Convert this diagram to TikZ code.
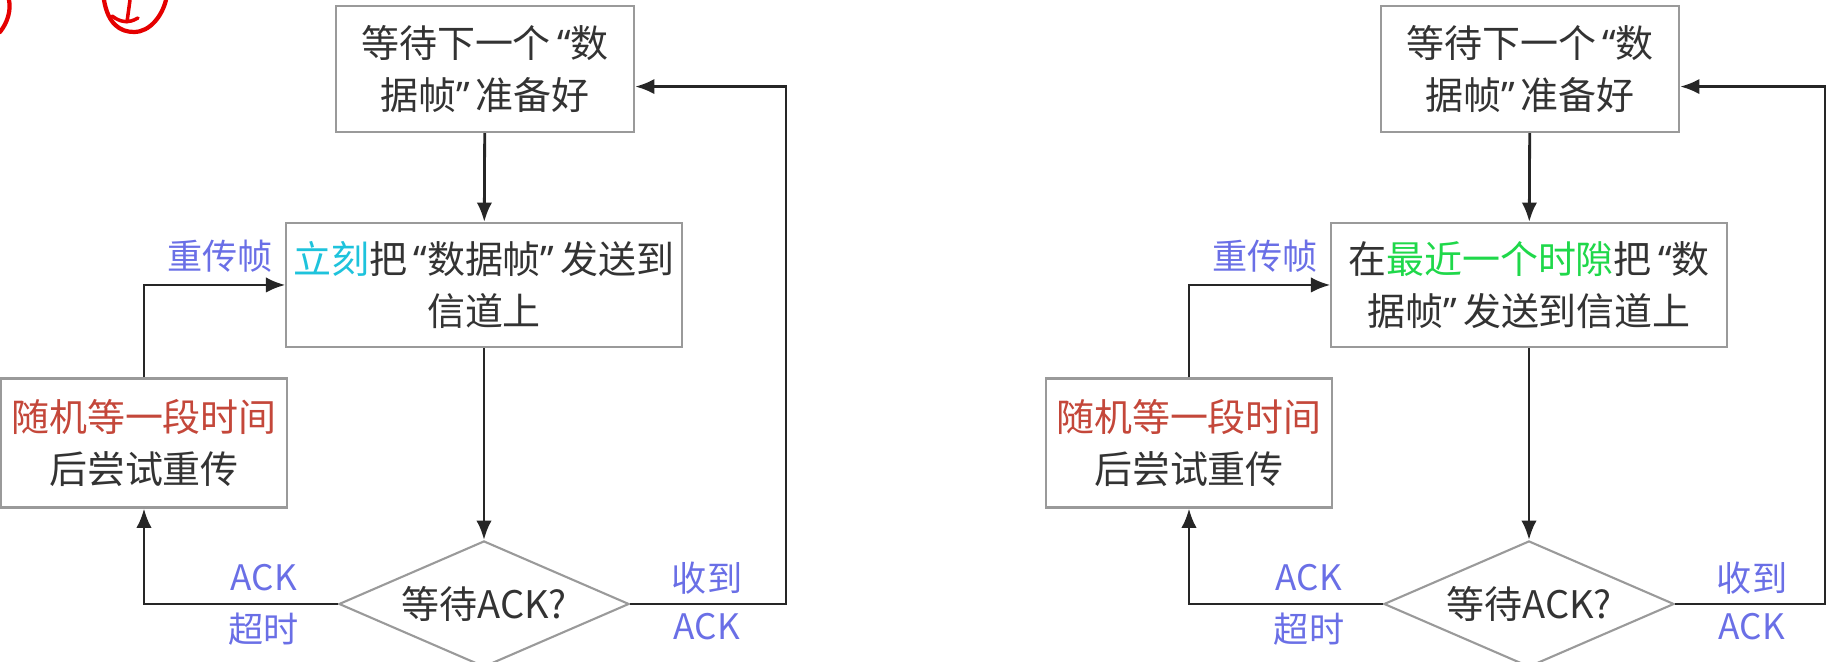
\documentclass[tikz,border=0pt]{standalone}
\usepackage{fontspec}
\setmainfont{Noto Sans CJK SC}
\newfontfamily\quotefont{Noto Sans}
\usepackage{tikz}
\usetikzlibrary{calc,arrows.meta,shapes.geometric}
\usepackage{xcolor}

\definecolor{txtgray}{HTML}{333333}
\definecolor{boxgray}{HTML}{9A9A9A}
\definecolor{tagblue}{HTML}{6A6FE6}
\definecolor{nowcyan}{HTML}{1EC3DC}
\definecolor{randred}{HTML}{C4473A}
\definecolor{slotgreen}{HTML}{1FD84A}

\newcommand{\qopen}{{\quotefont\,“}}
\newcommand{\qclose}{{\quotefont ”\,}}

\begin{document}
\begin{tikzpicture}[x=0.01cm,y=-0.01cm,
    box/.style={draw=boxgray,line width=0.6pt,fill=white,text=txtgray,
      align=center,inner sep=0pt,font=\fontsize{10.8}{15}\selectfont},
    decide/.style={diamond,draw=boxgray,line width=0.6pt,text=txtgray,
      aspect=2.3,inner sep=0pt,minimum width=2.9cm,minimum height=1.26cm,
      font=\fontsize{10.8}{15}\selectfont},
    tag/.style={text=tagblue,inner sep=0pt,font=\fontsize{10}{12}\selectfont},
    link/.style={draw=black!85,line width=0.8pt,
      -{Latex[length=5.5pt,width=4.4pt]}}]
  \useasboundingbox (0,0) rectangle (1838,662);
  % one flow chart: prefix, x offset, text of the sending step, x of the return line
  \newcommand{\csmapanel}[4]{%
    \node[box,minimum width=2.98cm,minimum height=1.26cm] (#1-wait)
      at ({#2+485},69) {等待下一个\qopen 数\\据帧\qclose 准备好};
    \node[box,minimum width=3.95cm,minimum height=1.24cm] (#1-send)
      at ({#2+484},285) {#3};
    \node[decide] (#1-ack) at ({#2+484},604) {等待ACK?};
    \node[box,minimum width=2.86cm,minimum height=1.29cm] (#1-retry)
      at ({#2+144},443) {\textcolor{randred}{随机等一段时间}\\后尝试重传};
    \coordinate (#1-loop) at (#4,604);
    \draw[link] (#1-wait) -- (#1-send);
    \draw[link] (#1-send) -- (#1-ack);
    \draw[link] (#1-ack.west) -| (#1-retry.south);
    \draw[link] (#1-retry.north) |- (#1-send.west);
    \draw[link] (#1-ack.east) -- (#1-loop) |- ([yshift=-5]#1-wait.east);
    \node[tag] (#1-resend) at ({#2+220},256) {重传帧};
    \node[tag] (#1-tout1) at ({#2+264},578) {ACK};
    \node[tag] (#1-tout2) at ({#2+264},629) {超时};
    \node[tag] (#1-got1) at ({#2+707},578) {收到};
    \node[tag] (#1-got2) at ({#2+707},627) {ACK};
  }
  \csmapanel{L}{0}{\textcolor{nowcyan}{立刻}把\qopen 数据帧\qclose 发送到\\信道上}{786}
  \csmapanel{R}{1045}{在\textcolor{slotgreen}{最近一个时隙}把\qopen 数\\据帧\qclose 发送到信道上}{1825}
  % red pen marks at the top left
  \draw[red!90!black,line width=1.2pt,line cap=round]
    (0,32) .. controls (8,22) and (11,10) .. (9,0);
  \draw[red!90!black,line width=1.2pt,line cap=round]
    (104,0) .. controls (108,24) and (120,32) .. (134,32)
    .. controls (150,32) and (162,16) .. (166,0);
  \draw[red!90!black,line width=1.0pt,line cap=round]
    (112,16) .. controls (120,22) and (128,24) .. (138,18)
    (130,0) -- (127,22);
\end{tikzpicture}
\end{document}
